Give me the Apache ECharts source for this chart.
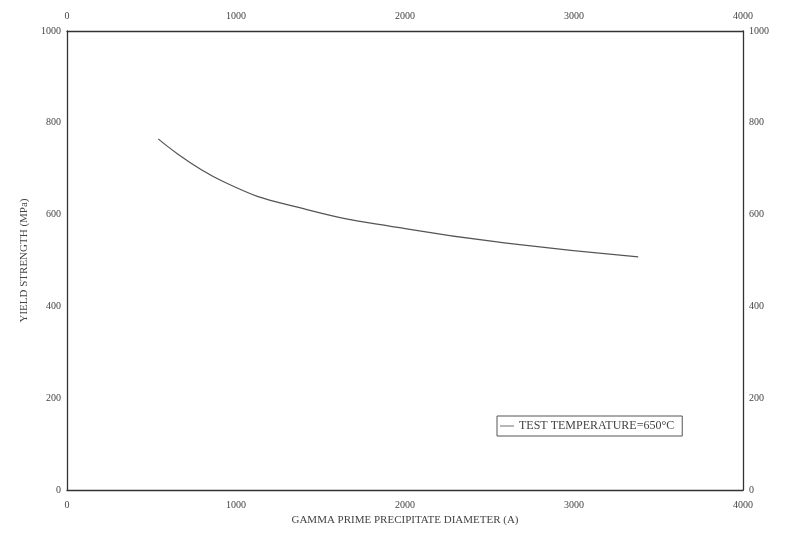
<!DOCTYPE html>
<html>
<head>
<meta charset="utf-8">
<script src="https://cdn.jsdelivr.net/npm/echarts@6/dist/echarts.min.js"></script>
<style>
  html, body { margin: 0; padding: 0; background: #fff; }
  #chart { width: 787px; height: 538px; }
</style>
</head>
<body>
<div id="chart"></div>
<script>
// precipitate diameter (A) and yield strength (MPa)
var diameter = [540, 930, 1420, 2010, 2600, 3380];
var strength = [765, 671, 611, 569, 538, 508];
var seriesName = 'TEST TEMPERATURE=650\u00b0C';

var xTicks = [0, 1000, 2000, 3000, 4000];
var yTicks = [0, 200, 400, 600, 800, 1000];

var font = 'Liberation Serif';
var ink = '#444';

var chart = echarts.init(document.getElementById('chart'));

function plain(v) { return String(v); }

function axisX(pos, name) {
  return {
    type: 'value',
    position: pos,
    min: xTicks[0],
    max: xTicks[xTicks.length - 1],
    interval: 1000,
    name: name,
    nameLocation: 'middle',
    nameGap: 24,
    nameTextStyle: { fontFamily: font, fontSize: 11, color: ink },
    axisLine: { show: true, onZero: false, lineStyle: { color: '#333', width: 1.3 } },
    axisTick: { show: false },
    axisLabel: { fontFamily: font, fontSize: 10, color: ink, margin: 10, formatter: plain },
    splitLine: { show: false }
  };
}

function axisY(pos, name) {
  return {
    type: 'value',
    position: pos,
    min: yTicks[0],
    max: yTicks[yTicks.length - 1],
    interval: 200,
    name: name,
    nameLocation: 'middle',
    nameGap: 28,
    nameTextStyle: { fontFamily: font, fontSize: 11, color: ink },
    axisLine: { show: true, onZero: false, lineStyle: { color: '#333', width: 1.3 } },
    axisTick: { show: false },
    axisLabel: { fontFamily: font, fontSize: 10, color: ink, margin: 6, formatter: plain },
    splitLine: { show: false }
  };
}

var option = {
  backgroundColor: '#fff',
  animation: false,
  grid: { left: 67, right: 44, top: 31, bottom: 48 },
  legend: {
    left: 497,
    top: 416,
    data: [seriesName],
    icon: 'path://M0,0 L1,0 L1,0.06 L0,0.06 Z',
    itemWidth: 14,
    itemHeight: 1,
    itemGap: 4,
    padding: [4, 8, 4, 3],
    borderColor: '#555',
    borderWidth: 1,
    textStyle: { fontFamily: font, fontSize: 12, color: ink, padding: [0, 0, 0, 0] }
  },
  xAxis: [
    axisX('bottom', 'GAMMA PRIME PRECIPITATE DIAMETER (A)'),
    axisX('top', '')
  ],
  yAxis: [
    axisY('left', 'YIELD STRENGTH (MPa)'),
    axisY('right', '')
  ],
  series: [{
    name: seriesName,
    type: 'line',
    smooth: true,
    showSymbol: false,
    lineStyle: { color: '#555', width: 1.2 },
    itemStyle: { color: '#555' },
    data: diameter.map(function (d, i) { return [d, strength[i]]; })
  }]
};

chart.setOption(option);
</script>
</body>
</html>
